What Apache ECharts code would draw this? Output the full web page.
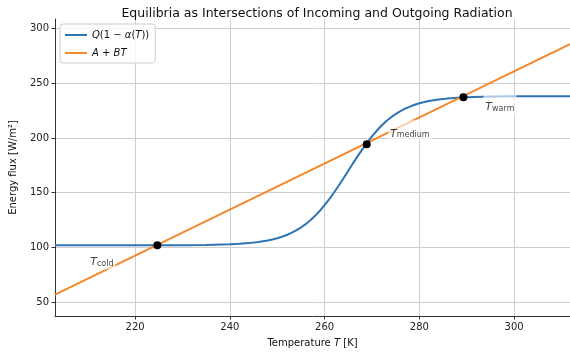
<!DOCTYPE html>
<html>
<head>
<meta charset="utf-8">
<script src="https://cdn.jsdelivr.net/npm/echarts@6/dist/echarts.min.js"></script>
<style>html,body{margin:0;padding:0;background:#fff}#c{width:570px;height:356px}</style>
</head>
<body>
<div id="c"></div>
<script>
// Absorbed solar radiation Q(1 - alpha(T))
const tempsQ = [203.1, 210, 220, 230, 235, 240, 242, 244, 246, 248, 249, 250, 251, 252, 253, 254, 255, 256, 257, 258, 259, 260, 261, 262, 263, 264, 265, 266, 267, 268, 269, 270, 271, 272, 273, 274, 275, 276, 277, 278, 279, 280, 282, 284, 286, 288, 290, 295, 300, 305, 311.8];
const fluxQ  = [102.0, 102.0, 102.0, 102.1, 102.3, 102.9, 103.4, 104.0, 105.0, 106.4, 107.3, 108.4, 109.8, 111.4, 113.3, 115.6, 118.2, 121.3, 124.8, 128.9, 133.5, 138.6, 144.2, 150.2, 156.6, 163.2, 170.0, 176.8, 183.4, 189.8, 195.8, 201.4, 206.5, 211.1, 215.2, 218.7, 221.8, 224.4, 226.7, 228.6, 230.2, 231.6, 233.6, 235.0, 236.0, 236.6, 237.1, 237.7, 237.9, 238.0, 238.0];
// Outgoing radiation A + BT
const tempsOLR = [203.1, 311.8];
const fluxOLR  = [57.0, 285.6];
// Equilibria
const eqTemps = [224.7, 268.9, 289.3];
const eqFlux  = [102.0, 194.2, 237.1];
// Equilibrium labels
const eqNames = ['cold', 'medium', 'warm'];
const eqLabelT = [213.0, 278.0, 297.0];
const eqLabelF = [89.5, 206.5, 230.5];

const xMin = 203.1, xMax = 311.8, yMin = 37.5, yMax = 308.5;

const font = 'DejaVu Sans';
const chart = echarts.init(document.getElementById('c'), null, {renderer: 'canvas'});

const zip = (a, b) => a.map((v, i) => [v, b[i]]);

chart.setOption({
  animation: false,
  backgroundColor: '#fff',
  textStyle: {fontFamily: font},
  title: {
    text: 'Equilibria as Intersections of Incoming and Outgoing Radiation',
    left: 312, top: 2, textAlign: 'center',
    textStyle: {fontFamily: font, fontSize: 12.5, fontWeight: 'normal', color: '#111'}
  },
  grid: {left: 55, right: 0, top: 19, bottom: 40},
  legend: {
    left: 60, top: 24, orient: 'vertical',
    data: ['Q', 'AB'],
    icon: 'rect', itemWidth: 22, itemHeight: 2, itemGap: 8,
    padding: [6, 6, 5, 5],
    borderColor: '#cccccc', borderWidth: 1, borderRadius: 3,
    backgroundColor: 'rgba(255,255,255,0.8)',
    formatter: function (n) {
      return n === 'Q' ? '{i|Q}(1 − {i|α}({i|T}))' : '{i|A} + {i|BT}';
    },
    textStyle: {
      fontFamily: font, fontSize: 10, color: '#111',
      rich: {i: {fontStyle: 'italic', fontFamily: font, fontSize: 10, color: '#111'}}
    }
  },
  xAxis: {
    type: 'value', min: xMin, max: xMax, splitNumber: 5,
    name: '{n|Temperature }{i|T}{n| [K]}', nameLocation: 'middle', nameGap: 22,
    nameTextStyle: {
      fontFamily: font, fontSize: 10, color: '#111',
      rich: {n: {fontFamily: font, fontSize: 10, color: '#111'}, i: {fontFamily: font, fontSize: 10, fontStyle: 'italic', color: '#111'}}
    },
    axisLine: {onZero: false, lineStyle: {color: '#333', width: 1}},
    axisTick: {show: true, length: 3.5, lineStyle: {color: '#333'}},
    axisLabel: {showMinLabel: false, showMaxLabel: false, fontFamily: font, fontSize: 10, color: '#222', margin: 6},
    splitLine: {show: true, showMinLine: false, showMaxLine: false, lineStyle: {color: '#cfcfcf', width: 1}}
  },
  yAxis: {
    type: 'value', min: yMin, max: yMax, splitNumber: 5,
    name: 'Energy flux [W/m²]', nameLocation: 'middle', nameGap: 37,
    nameTextStyle: {fontFamily: font, fontSize: 10, color: '#111'},
    axisLine: {show: true, onZero: false, lineStyle: {color: '#333', width: 1}},
    axisTick: {show: true, length: 3.5, lineStyle: {color: '#333'}},
    axisLabel: {showMinLabel: false, showMaxLabel: false, fontFamily: font, fontSize: 10, color: '#222', margin: 6},
    splitLine: {show: true, showMinLine: false, showMaxLine: false, lineStyle: {color: '#cfcfcf', width: 1}}
  },
  series: [
    {
      name: 'Q', type: 'line', data: zip(tempsQ, fluxQ), showSymbol: false,
      smooth: false, z: 3,
      lineStyle: {color: '#2f73b3', width: 2}, itemStyle: {color: '#2f73b3'}
    },
    {
      name: 'AB', type: 'line', data: zip(tempsOLR, fluxOLR), showSymbol: false, z: 3,
      lineStyle: {color: '#f5882a', width: 2}, itemStyle: {color: '#f5882a'}
    },
    {
      name: 'labels', type: 'scatter', z: 5, symbolSize: 0,
      data: eqNames.map((n, i) => ({value: [eqLabelT[i], eqLabelF[i]], name: n})),
      label: {
        show: true, position: 'inside',
        formatter: p => '{t|T}{s|' + p.name + '}',
        backgroundColor: 'rgba(255,255,255,0.75)',
        padding: [5, 2, 2, 2],
        rich: {
          t: {fontFamily: font, fontSize: 11, fontStyle: 'italic', color: '#111', verticalAlign: 'bottom', lineHeight: 14},
          s: {fontFamily: font, fontSize: 8, color: '#111', verticalAlign: 'bottom', padding: [5, 0, 0, 0], lineHeight: 14}
        }
      },
      silent: true
    },
    {
      name: 'eq', type: 'scatter', z: 6, symbol: 'circle', symbolSize: 8,
      data: zip(eqTemps, eqFlux),
      itemStyle: {color: '#000', opacity: 1}
    }
  ]
});
</script>
</body>
</html>
